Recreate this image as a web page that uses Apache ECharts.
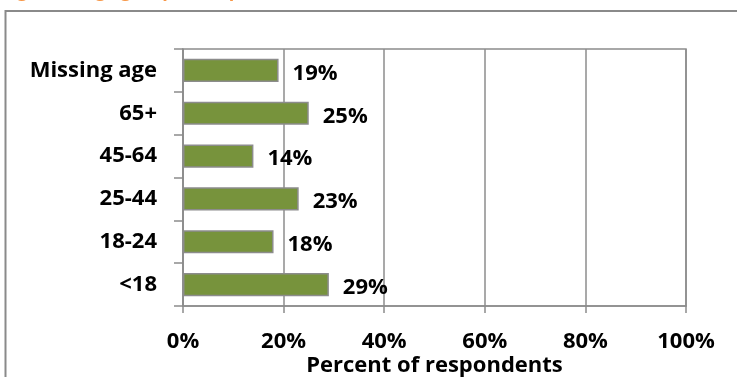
<!DOCTYPE html>
<html>
<head>
<meta charset="utf-8">
<script src="https://cdn.jsdelivr.net/npm/echarts@6/dist/echarts.min.js"></script>
<style>
  html, body { margin: 0; padding: 0; background: #fff; }
  #chart { width: 737px; height: 377px; }
</style>
</head>
<body>
<div id="chart"></div>
<script>
// Age groups, listed bottom to top as they appear on the axis
const ageGroups = ['<18', '18-24', '25-44', '45-64', '65+', 'Missing age'];
// Share of respondents in each group (%)
const percentRespondents = [29, 18, 23, 14, 25, 19];
// Horizontal axis scale
const axisMin = 0;
const axisMax = 100;
const axisStep = 20;

const FONT = '"Open Sans"';
const FONT_SIZE = 22;
const GRID_GRAY = '#8c8c8c';

const chart = echarts.init(document.getElementById('chart'), null, { renderer: 'canvas' });

chart.setOption({
  animation: false,
  backgroundColor: '#ffffff',
  graphic: [
    {
      type: 'text',
      left: 2,
      top: -17,
      silent: true,
      style: {
        text: 'Figure 3: Age group of respondents',
        fill: '#F79646',
        font: 'bold 18px ' + FONT
      }
    },
    {
      type: 'rect',
      silent: true,
      shape: { x: 5.5, y: 11, width: 800, height: 400 },
      style: { fill: 'none', stroke: '#8a8a8a', lineWidth: 2 }
    }
  ],
  grid: {
    left: 183,
    right: 51,
    top: 49,
    bottom: 71,
    outerBoundsMode: 'none',
    containLabel: false,
    show: true,
    borderColor: GRID_GRAY,
    borderWidth: 1.5,
    backgroundColor: 'transparent'
  },
  xAxis: {
    type: 'value',
    min: axisMin,
    max: axisMax,
    interval: axisStep,
    name: 'Percent of respondents',
    nameLocation: 'middle',
    nameGap: 49,
    nameMoveOverlap: false,
    nameTextStyle: { fontFamily: FONT, fontWeight: 'bold', fontSize: FONT_SIZE, color: '#000' },
    axisLine: { show: true, lineStyle: { color: GRID_GRAY, width: 1.5 } },
    axisTick: { show: true, length: 7, lineStyle: { color: GRID_GRAY, width: 1.5 } },
    axisLabel: {
      formatter: '{value}%',
      margin: 25,
      fontFamily: FONT,
      fontWeight: 'bold',
      fontSize: FONT_SIZE,
      color: '#000'
    },
    splitLine: { show: true, lineStyle: { color: GRID_GRAY, width: 1.5 } }
  },
  yAxis: {
    type: 'category',
    data: ageGroups,
    axisLine: { show: true, lineStyle: { color: GRID_GRAY, width: 1.5 } },
    axisTick: { show: true, length: 9, lineStyle: { color: GRID_GRAY, width: 1.5 } },
    axisLabel: {
      margin: 26,
      fontFamily: FONT,
      fontWeight: 'bold',
      fontSize: FONT_SIZE,
      color: '#000'
    },
    splitLine: { show: false }
  },
  series: [
    {
      type: 'bar',
      data: percentRespondents,
      barCategoryGap: '46%',
      itemStyle: {
        color: '#77933C',
        borderColor: '#8c8c8c',
        borderWidth: 1.5
      },
      label: {
        show: true,
        position: 'right',
        distance: 14,
        offset: [0, 3],
        formatter: '{c}%',
        fontFamily: FONT,
        fontWeight: 'bold',
        fontSize: FONT_SIZE,
        color: '#000'
      }
    }
  ]
});
</script>
</body>
</html>
